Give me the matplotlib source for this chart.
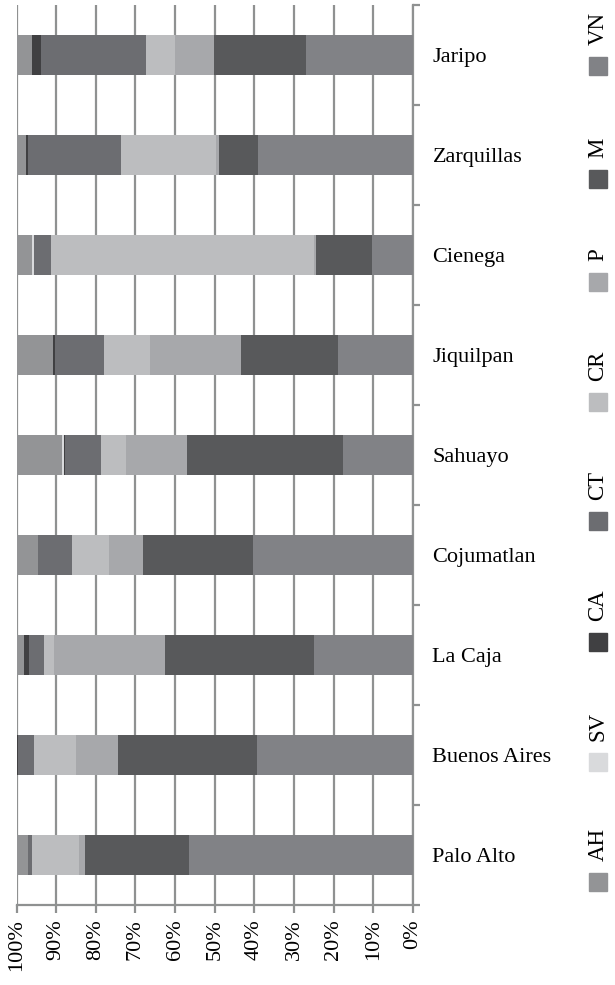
import numpy as np
import matplotlib
matplotlib.use("Agg")
import matplotlib.pyplot as plt
from matplotlib.patches import Rectangle

plt.rcParams['font.family'] = ['Liberation Serif', 'DejaVu Serif']

# ---------- data (percent shares) ----------
places = ["Jaripo", "Zarquillas", "Cienega", "Jiquilpan", "Sahuayo",
          "Cojumatlan", "La Caja", "Buenos Aires", "Palo Alto"]
series = ["AH", "SV", "CA", "CT", "CR", "P", "M", "VN"]
AH = [3.8, 2.5, 3.8, 9.3, 11.6, 5.5, 1.8, 0.0, 3.0]
SV = [0.0, 0.0, 0.5, 0.0, 0.3, 0.0, 0.0, 0.0, 0.0]
CA = [2.3, 0.5, 0.0, 0.5, 0.4, 0.0, 1.3, 0.5, 0.0]
CT = [26.5, 23.5, 4.3, 12.4, 9.1, 8.6, 3.8, 3.8, 0.8]
CR = [7.5, 24.0, 66.6, 11.6, 6.3, 9.3, 2.5, 10.6, 12.1]
P  = [9.9, 0.8, 0.5, 23.0, 15.4, 8.6, 28.2, 10.8, 1.3]
M  = [23.2, 9.8, 14.1, 24.5, 39.3, 27.7, 37.6, 35.1, 26.5]
VN = [27.0, 39.1, 10.3, 18.9, 17.7, 40.4, 25.0, 39.3, 56.5]
colors = ["#939496", "#d9dadc", "#404042", "#6c6d71",
          "#bcbdbf", "#a7a8ab", "#58595b", "#818286"]

vals = np.array([AH, SV, CA, CT, CR, P, M, VN], dtype=float)
vals = vals / vals.sum(axis=0) * 100.0

W, H = 615, 985
fig = plt.figure(figsize=(W / 100, H / 100), dpi=100)
ax = fig.add_axes([16.5 / W, 1 - 905 / H, (413 - 16.5) / W, 900 / H])

grid_c = "#8f9191"
y = np.arange(len(places))
cum = np.zeros(len(places))
for v, c, name in zip(vals, colors, series):
    cum += v
    ax.barh(y, v, left=100 - cum, height=0.4, color=c, zorder=3, label=name)

ax.set_xlim(100, 0)
ax.set_ylim(len(places) - 0.5, -0.5)

ax.set_xticks(np.arange(0, 101, 10))
ax.set_xticklabels([f"{t}%" for t in range(0, 101, 10)], rotation=90,
                   fontsize=16)
ax.xaxis.grid(True, color=grid_c, lw=1.6, zorder=0)
ax.tick_params(axis="x", direction="out", length=6, width=1.6,
               color=grid_c, pad=4)

ax.yaxis.tick_right()
ax.set_yticks(np.arange(-0.5, len(places), 1.0))
ax.set_yticklabels([])
ax.set_yticks(y, minor=True)
ax.set_yticklabels(places, minor=True, fontsize=16)
ax.tick_params(axis="y", which="major", direction="out", length=5,
               width=1.6, color=grid_c)
ax.tick_params(axis="y", which="minor", length=0, pad=14)

for s in ["top", "left"]:
    ax.spines[s].set_visible(False)
for s in ["bottom", "right"]:
    ax.spines[s].set_color(grid_c)
    ax.spines[s].set_linewidth(1.6)

# ---------- legend: vertical column, rotated labels ----------
leg_y = [882, 762, 642, 521, 402, 282, 179, 66]  # marker centres, px from top
sz = 18
for name, c, yc in zip(series, colors, leg_y):
    x0 = 589
    fig.add_artist(Rectangle((x0 / W, 1 - (yc + sz / 2) / H), sz / W, sz / H,
                             transform=fig.transFigure, color=c))
    fig.text((x0 + sz / 2) / W, 1 - (yc - sz / 2 - 12) / H, name,
             rotation=90, ha="center", va="bottom", fontsize=16.5)

fig.savefig("out.png", dpi=100)
